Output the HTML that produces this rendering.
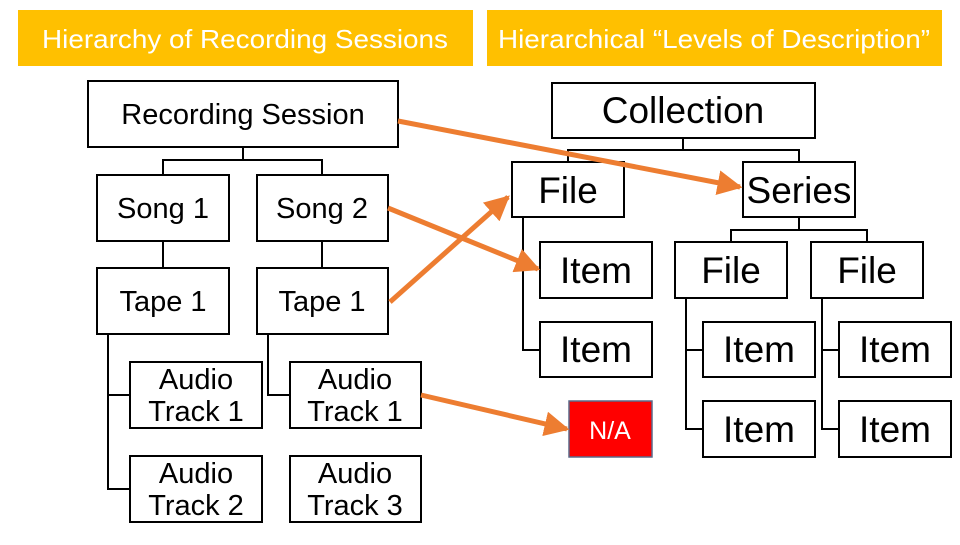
<!DOCTYPE html>
<html><head><meta charset="utf-8"><style>
body{margin:0;width:960px;height:540px;background:#fff;overflow:hidden;font-family:"Liberation Sans",Arial,sans-serif}
</style></head><body>
<svg width="960" height="540" viewBox="0 0 960 540" xmlns="http://www.w3.org/2000/svg" font-family="Liberation Sans, Arial, sans-serif">
<defs><marker id="a" markerWidth="5" markerHeight="5" refX="4.5" refY="2.5" orient="auto" markerUnits="strokeWidth"><path d="M0,0 L5,2.5 L0,5 z" fill="#ED7D31"/></marker></defs>
<rect x="18" y="10" width="455" height="56" fill="#FFC000"/>
<rect x="487" y="10" width="455" height="56" fill="#FFC000"/>
<text x="245" y="48" font-size="26" fill="#fff" text-anchor="middle" textLength="406" lengthAdjust="spacingAndGlyphs">Hierarchy of Recording Sessions</text>
<text x="714" y="48" font-size="26" fill="#fff" text-anchor="middle" textLength="432" lengthAdjust="spacingAndGlyphs">Hierarchical “Levels of Description”</text>
<g fill="none" stroke="#000" stroke-width="2">
<path d="M243 147V160M163 175V160H322V175M163 241V268M322 241V268M108 334V489H130M108 395H130M268 334V395H290"/>
<path d="M683 138V150M568 162V150H799V162M523 217V350H540M799 217V230M731 242V230H867V242M686 298V429H703M686 350H703M822 298V429H839M822 350H839"/>
</g>
<g fill="#fff" stroke="#000" stroke-width="2">
<rect x="88" y="81" width="310" height="66"/>
<rect x="97" y="175" width="132" height="66"/><rect x="257" y="175" width="131" height="66"/>
<rect x="97" y="268" width="132" height="66"/><rect x="257" y="268" width="131" height="66"/>
<rect x="130" y="362" width="132" height="66"/><rect x="290" y="362" width="131" height="66"/>
<rect x="130" y="456" width="132" height="66"/><rect x="290" y="456" width="131" height="66"/>
<rect x="552" y="83" width="263" height="55"/>
<rect x="512" y="162" width="112" height="55"/><rect x="743" y="162" width="112" height="55"/>
<rect x="540" y="242" width="112" height="56"/><rect x="540" y="322" width="112" height="55"/>
<rect x="675" y="242" width="112" height="56"/><rect x="811" y="242" width="112" height="56"/>
<rect x="703" y="322" width="112" height="55"/><rect x="703" y="401" width="112" height="56"/>
<rect x="839" y="322" width="112" height="55"/><rect x="839" y="401" width="112" height="56"/>
</g>
<rect x="569" y="401" width="83" height="56" fill="#FF0000" stroke="#5a6a8a" stroke-width="1.5"/>
<g font-size="29" text-anchor="middle" fill="#000">
<text x="243" y="124">Recording Session</text>
<text x="163" y="218">Song 1</text><text x="322" y="218">Song 2</text>
<text x="163" y="311">Tape 1</text><text x="322" y="311">Tape 1</text>
<text x="196" y="389">Audio</text><text x="196" y="421">Track 1</text>
<text x="355" y="389">Audio</text><text x="355" y="421">Track 1</text>
<text x="196" y="483">Audio</text><text x="196" y="515">Track 2</text>
<text x="355" y="483">Audio</text><text x="355" y="515">Track 3</text>
</g>
<g font-size="37" text-anchor="middle" fill="#000">
<text x="683" y="123">Collection</text>
<text x="568" y="203">File</text><text x="799" y="203">Series</text>
<text x="596" y="283">Item</text><text x="596" y="362">Item</text>
<text x="731" y="283">File</text><text x="867" y="283">File</text>
<text x="759" y="362">Item</text><text x="759" y="442">Item</text>
<text x="895" y="362">Item</text><text x="895" y="442">Item</text>
</g>
<text x="610" y="439" font-size="25" fill="#fff" text-anchor="middle">N/A</text>
<g stroke="#ED7D31" stroke-width="5" fill="none" marker-end="url(#a)">
<line x1="398" y1="121" x2="740" y2="187"/>
<line x1="388" y1="208" x2="538" y2="269"/>
<line x1="390" y1="302" x2="508" y2="197"/>
<line x1="421" y1="395" x2="567" y2="429"/>
</g>
</svg>
</body></html>
